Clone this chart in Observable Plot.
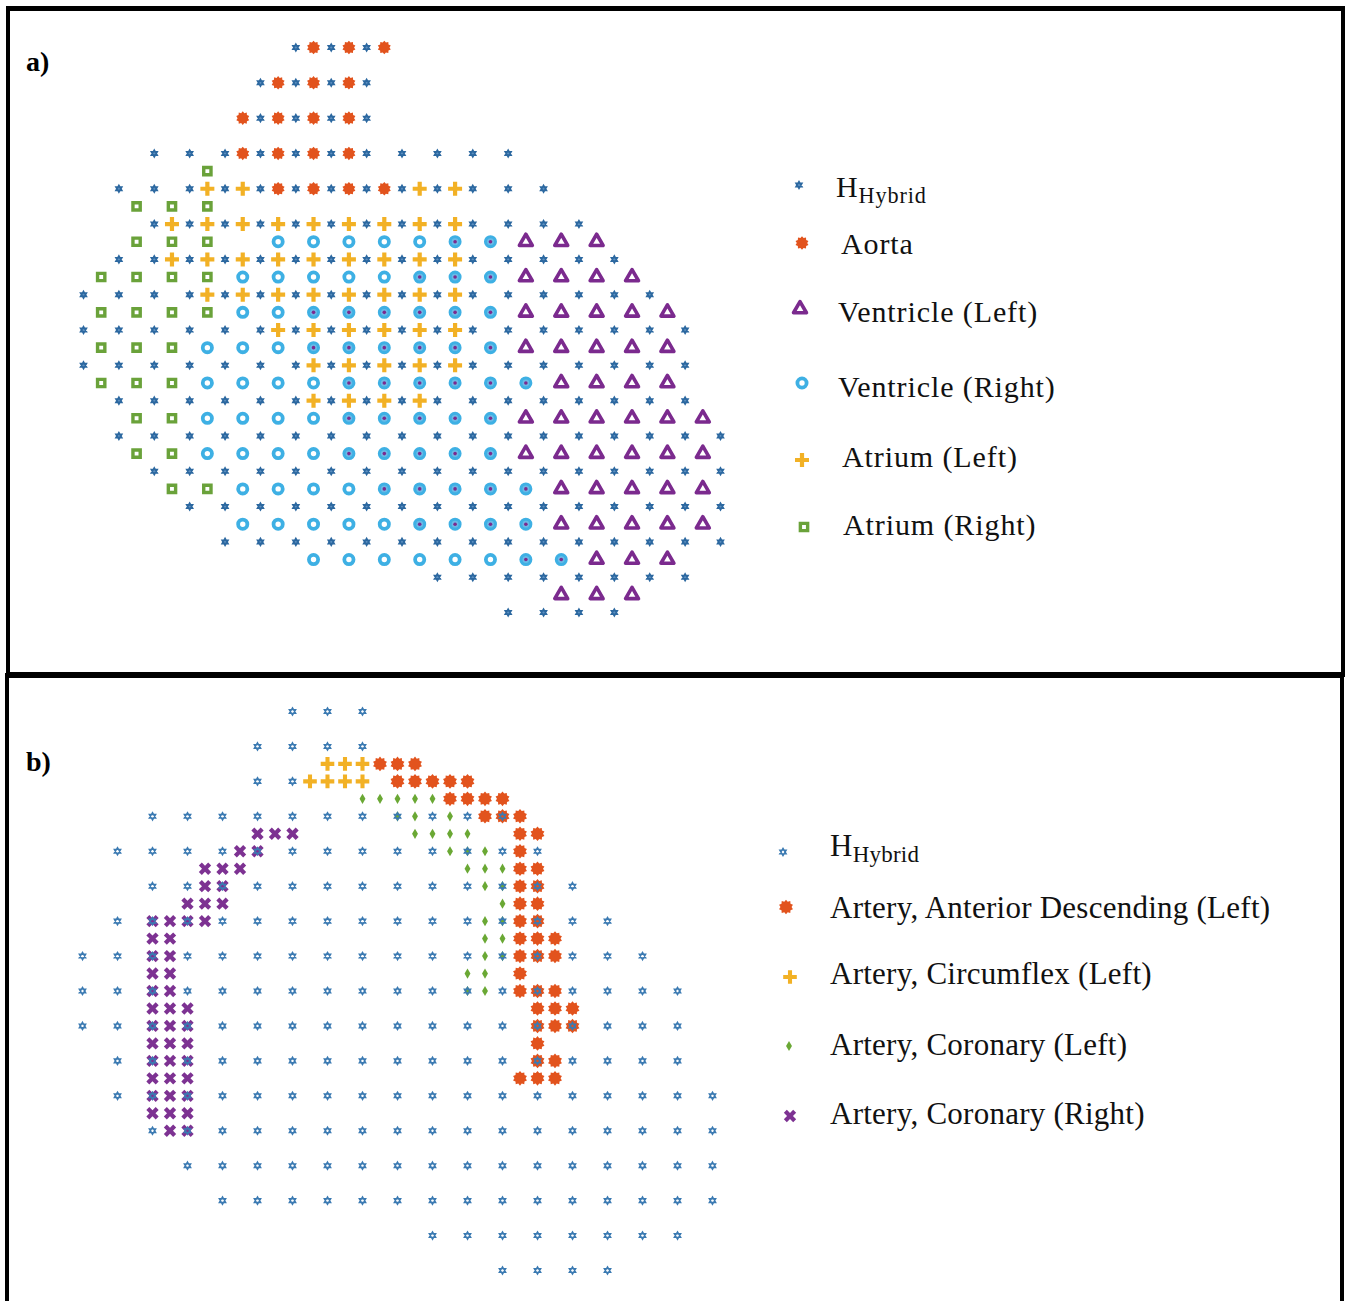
<!DOCTYPE html>
<html><head><meta charset="utf-8">
<script src="https://cdn.jsdelivr.net/npm/d3@7"></script>
<script src="https://cdn.jsdelivr.net/npm/@observablehq/plot@0.6"></script>
<style>
html,body{margin:0;padding:0;background:#fff;}
body{width:1352px;height:1301px;position:relative;overflow:hidden;font-family:"Liberation Serif",serif;}
.box{position:absolute;border:4px solid #000;box-sizing:border-box;background:transparent;}
.plotwrap{position:absolute;left:0;}
.plotwrap svg{background:transparent !important;max-width:none !important;}
#legend{position:absolute;left:0;top:0;pointer-events:none;}
</style></head><body>
<div class="box" style="left:6px;top:6px;width:1339px;height:671px;border-width:5px 4px 5px 4px"></div>
<div class="box" style="left:5px;top:673px;width:1339px;height:660px;border-width:5px 4px 4px 4px"></div>
<div class="plotwrap" id="pa" style="top:0"></div>
<div class="plotwrap" id="pb" style="top:676px"></div>
<svg id="legend" width="1352" height="1301"></svg>
<script>
// ---------------- DATA: panel a) (column index k, row index m on a half-step grid) ----------------
const aHybrid = [
  [0,"12 14 16"],[2,"10 12 14 16"],[4,"10 12 14 16"],
  [6,"4 6 8 10 12 14 16 18 20 22 24"],
  [8,"2 4 6 8 10 12 14 16 18 20 22 24 26"],
  [10,"4 6 8 10 12 14 16 18 20 22 24 26 28"],
  [12,"2 4 6 8 10 12 14 16 18 20 22 24 26 28 30"],
  [14,"0 2 4 6 8 10 12 14 16 18 20 22 24 26 28 30 32"],
  [16,"0 2 4 6 8 10 12 14 16 18 20 22 24 26 28 30 32 34"],
  [18,"0 2 4 6 8 10 12 14 16 18 20 22 24 26 28 30 32 34"],
  [20,"2 4 6 8 10 12 14 16 18 20 22 24 26 28 30 32 34"],
  [22,"2 4 6 8 10 12 14 16 18 20 22 24 26 28 30 32 34 36"],
  [24,"4 6 8 10 12 14 16 18 20 22 24 26 28 30 32 34 36"],
  [26,"6 8 10 12 14 16 18 20 22 24 26 28 30 32 34 36"],
  [28,"8 10 12 14 16 18 20 22 24 26 28 30 32 34 36"],
  [30,"20 22 24 26 28 30 32 34"],
  [32,"24 26 28 30"]
];
const aAorta = [[0,"13 15 17"],[2,"11 13 15"],[4,"9 11 13 15"],[6,"9 11 13 15"],[8,"11 13 15 17"]];
const aVentricleLeft = [
  [11,"25 27 29"],[13,"25 27 29 31"],[15,"25 27 29 31 33"],[17,"25 27 29 31 33"],
  [19,"27 29 31 33"],[21,"25 27 29 31 33 35"],[23,"25 27 29 31 33 35"],
  [25,"27 29 31 33 35"],[27,"27 29 31 33 35"],[29,"29 31 33"],[31,"27 29 31"]
];
const aVentricleRight = [
  [11,"11 13 15 17 19 21 23"],[13,"9 11 13 15 17 19 21 23"],[15,"9 11 13 15 17 19 21 23"],
  [17,"7 9 11 13 15 17 19 21 23"],[19,"7 9 11 13 15 17 19 21 23 25"],
  [21,"7 9 11 13 15 17 19 21 23"],[23,"7 9 11 13 15 17 19 21 23"],
  [25,"9 11 13 15 17 19 21 23 25"],[27,"9 11 13 15 17 19 21 23 25"],
  [29,"13 15 17 19 21 23 25 27"]
];
const aVentricleOverlap = [
  [11,"21 23"],[13,"19 21 23"],[15,"13 15 17 19 21 23"],[17,"13 15 17 19 21 23"],
  [19,"15 17 19 21 23 25"],[21,"15 17 19 21 23"],[23,"15 17 19 21 23"],
  [25,"17 19 21 23 25"],[27,"19 21 23 25"],[29,"25 27"]
];
const aAtriumLeft = [
  [8,"7 9 19 21"],[10,"5 7 9 11 13 15 17 19 21"],[12,"5 7 9 11 13 15 17 19 21"],
  [14,"7 9 11 13 15 17 19 21"],[16,"11 13 15 17 19 21"],[18,"13 15 17 19 21"],[20,"13 15 17 19"]
];
const aAtriumRight = [
  [7,"7"],[9,"3 5 7"],[11,"3 5 7"],[13,"1 3 5 7"],[15,"1 3 5 7"],[17,"1 3 5"],
  [19,"1 3 5"],[21,"3 5"],[23,"3 5"],[25,"5 7"]
];
const aLegend = ["HHybrid","Aorta","Ventricle (Left)","Ventricle (Right)","Atrium (Left)","Atrium (Right)"];

// ---------------- DATA: panel b) ----------------
const bHybrid = [
  [0,"12 14 16"],[2,"10 12 14 16"],[4,"10 12"],
  [6,"4 6 8 10 12 14 16 18 20 22 24"],
  [8,"2 4 6 8 10 12 14 16 18 20 22 24 26"],
  [10,"4 6 8 10 12 14 16 18 20 22 24 26 28"],
  [12,"2 4 6 8 10 12 14 16 18 20 22 24 26 28 30"],
  [14,"0 2 4 6 8 10 12 14 16 18 20 22 24 26 28 30 32"],
  [16,"0 2 4 6 8 10 12 14 16 18 20 22 24 26 28 30 32 34"],
  [18,"0 2 4 6 8 10 12 14 16 18 20 22 24 26 28 30 32 34"],
  [20,"2 4 6 8 10 12 14 16 18 20 22 24 26 28 30 32 34"],
  [22,"2 4 6 8 10 12 14 16 18 20 22 24 26 28 30 32 34 36"],
  [24,"4 6 8 10 12 14 16 18 20 22 24 26 28 30 32 34 36"],
  [26,"6 8 10 12 14 16 18 20 22 24 26 28 30 32 34 36"],
  [28,"8 10 12 14 16 18 20 22 24 26 28 30 32 34 36"],
  [30,"20 22 24 26 28 30 32 34"],
  [32,"24 26 28 30"]
];
const bAnteriorDescending = [
  [3,"17 18 19"],[4,"18 19 20 21 22"],[5,"21 22 23 24"],[6,"23 24 25"],[7,"25 26"],
  [8,"25"],[9,"25 26"],[10,"25 26"],[11,"25 26"],[12,"25 26"],[13,"25 26 27"],
  [14,"25 26 27"],[15,"25"],[16,"25 26 27"],[17,"26 27 28"],[18,"26 27 28"],
  [19,"26"],[20,"26 27"],[21,"25 26 27"]
];
const bCircumflex = [[3,"14 15 16"],[4,"13 14 15 16"]];
const bCoronaryLeft = [
  [5,"16 17 18 19 20"],[6,"18 19 21"],[7,"19 20 21 22"],[8,"21 22 23"],[9,"22 23 24"],
  [10,"23 24"],[11,"24"],[12,"23 24"],[13,"23 24"],[14,"23 24"],[15,"22 23"],[16,"22 23"]
];
const bCoronaryRight = [
  [7,"10 11 12"],[8,"9 10"],[9,"7 8 9"],[10,"7 8"],[11,"6 7 8"],[12,"4 5 6 7"],
  [13,"4 5"],[14,"4 5"],[15,"4 5"],[16,"4 5"],[17,"4 5 6"],[18,"4 5 6"],[19,"4 5 6"],
  [20,"4 5 6"],[21,"4 5 6"],[22,"4 5 6"],[23,"4 5 6"],[24,"5 6"]
];
const bLegend = ["HHybrid","Artery, Anterior Descending (Left)","Artery, Circumflex (Left)","Artery, Coronary (Left)","Artery, Coronary (Right)"];

// ---------------- colours ----------------
const cHa = "#2c68a0", cHb = "#3b7ab2", cAorta = "#e2531d", cVL = "#7b2a8e",
      cVR = "#3eb0e4", cAL = "#f2b125", cAR = "#6aa23a", cCL = "#6aa834", cCR = "#7d3292";

// ---------------- custom symbols ----------------
const hexagram = {draw(ctx, size){ const R = Math.sqrt(size/Math.PI);
  for (let t=0;t<2;t++){ for (let i=0;i<3;i++){ const a=(t?Math.PI/2:-Math.PI/2)+i*2*Math.PI/3;
    const x=R*Math.cos(a), y=R*Math.sin(a); if(i) ctx.lineTo(x,y); else ctx.moveTo(x,y);} ctx.closePath(); } }};
const burst = {draw(ctx, size){ const R = Math.sqrt(size/Math.PI), n = 10;
  for (let i=0;i<2*n;i++){ const a=i*Math.PI/n - Math.PI/2, r=i%2?R*0.76:R;
    const x=r*Math.cos(a), y=r*Math.sin(a); if(i) ctx.lineTo(x,y); else ctx.moveTo(x,y);} ctx.closePath(); }};
function crossPts(R, w){ return [[-w,-R],[w,-R],[w,-w],[R,-w],[R,w],[w,w],[w,R],[-w,R],[-w,w],[-R,w],[-R,-w],[-w,-w]]; }
const plusSym = {draw(ctx, size){ const R=Math.sqrt(size/Math.PI), w=R*0.3;
  crossPts(R,w).forEach(([x,y],i)=> i?ctx.lineTo(x,y):ctx.moveTo(x,y)); ctx.closePath(); }};
const timesSym = {draw(ctx, size){ const R=Math.sqrt(size/Math.PI), w=R*0.32, s=Math.SQRT1_2;
  crossPts(R,w).forEach(([x,y],i)=>{ const X=(x-y)*s, Y=(x+y)*s; i?ctx.lineTo(X,Y):ctx.moveTo(X,Y); }); ctx.closePath(); }};

function pts(rows){ const out=[]; for (const [m, ks] of rows) for (const k of ks.trim().split(/\s+/)) out.push({k:+k, m}); return out; }

// ---------------- panel a ----------------
const plotA = Plot.plot({
  width: 760, height: 676, style:{background:"transparent"},
  x: {domain:[0,36], range:[83,720], axis:null},
  y: {domain:[0,32], range:[47,612], axis:null},
  marks: [
    Plot.dot(pts(aHybrid), {x:"k", y:"m", symbol:hexagram, r:3.4, stroke:cHa, strokeWidth:1.6, fill:"#5b8fc0"}),
    Plot.dot(pts(aAorta), {x:"k", y:"m", symbol:burst, r:6.8, fill:cAorta, stroke:"none"}),
    Plot.dot(pts(aAtriumLeft), {x:"k", y:"m", symbol:plusSym, r:7, fill:cAL, stroke:"none"}),
    Plot.dot(pts(aAtriumRight), {x:"k", y:"m", symbol:"square", r:4.1, stroke:cAR, strokeWidth:3.4, fill:"white"}),
    Plot.dot(pts(aVentricleRight), {x:"k", y:"m", symbol:"circle", r:4.6, stroke:cVR, strokeWidth:3.8, fill:"white"}),
    Plot.dot(pts(aVentricleOverlap), {x:"k", y:"m", r:3.4, fill:"#6bb9e6", stroke:"none"}),
    Plot.dot(pts(aVentricleOverlap), {x:"k", y:"m", r:1.8, fill:cVL, stroke:"none"}),
    Plot.dot(pts(aVentricleLeft), {x:"k", y:"m", symbol:"triangle", r:4.8, stroke:cVL, strokeWidth:3.6, strokeLinejoin:"round", fill:"white"})
  ]
});
document.getElementById("pa").appendChild(plotA);

// ---------------- panel b ----------------
const plotB = Plot.plot({
  width: 760, height: 620, style:{background:"transparent"},
  x: {domain:[0,36], range:[82,712], axis:null},
  y: {domain:[0,32], range:[35,594], axis:null},
  marks: [
    Plot.dot(pts(bCircumflex), {x:"k", y:"m", symbol:plusSym, r:6.8, fill:cAL, stroke:"none"}),
    Plot.dot(pts(bAnteriorDescending), {x:"k", y:"m", symbol:burst, r:7.3, fill:cAorta, stroke:"none"}),
    Plot.dot(pts(bCoronaryLeft), {x:"k", y:"m", symbol:"diamond", r:3.1, fill:cCL, stroke:"none"}),
    Plot.dot(pts(bCoronaryRight), {x:"k", y:"m", symbol:timesSym, r:6.6, fill:cCR, stroke:"none"}),
    Plot.dot(pts(bHybrid), {x:"k", y:"m", symbol:hexagram, r:3.7, stroke:cHb, strokeWidth:1.4, fill:"none"})
  ]
});
document.getElementById("pb").appendChild(plotB);

// ---------------- legends and panel labels ----------------
const L = d3.select("#legend");
function sym(x, y, type, r, attrs){ const p = L.append("path").attr("d", d3.symbol(type, Math.PI*r*r)()).attr("transform", `translate(${x},${y})`);
  for (const [k,v] of Object.entries(attrs)) p.attr(k,v); }
function label(x, y, txt, size){
  const t = L.append("text").attr("x",x).attr("y",y).attr("font-family","Liberation Serif, serif").attr("font-size",size).attr("fill","#111");
  if (txt.startsWith("HHybrid")) { t.append("tspan").text("H"); t.append("tspan").attr("font-size",size*0.74).attr("dy",6).text("Hybrid"); }
  else t.text(txt);
  return t;
}
L.append("text").attr("x",26).attr("y",71).attr("font-family","Liberation Serif, serif").attr("font-weight","bold").attr("font-size",28).text("a)");
L.append("text").attr("x",26).attr("y",771).attr("font-family","Liberation Serif, serif").attr("font-weight","bold").attr("font-size",28).text("b)");

// panel a legend
const aSym = [
  [hexagram, 3.4, {stroke:cHa,"stroke-width":1.6,fill:"#5b8fc0"}],
  [burst, 6.8, {fill:cAorta}],
  [d3.symbolTriangle, 4.8, {stroke:cVL,"stroke-width":3.6,"stroke-linejoin":"round",fill:"white"}],
  [d3.symbolCircle, 4.6, {stroke:cVR,"stroke-width":3.8,fill:"white"}],
  [plusSym, 7, {fill:cAL}],
  [d3.symbolSquare, 4.1, {stroke:cAR,"stroke-width":3.4,fill:"white"}]
];
const aSymPos = [[799,185],[802,243],[800,309],[802,383],[802,460],[804,527]];
const aTxtPos = [[836,197],[841,254],[838,322],[838,397],[842,467],[843,535]];
aLegend.forEach((t,i)=>{ sym(...aSymPos[i], ...aSym[i]); label(...aTxtPos[i], t, 30).attr("letter-spacing", 0.9); });

// panel b legend
const bSym = [
  [hexagram, 3.7, {stroke:cHb,"stroke-width":1.4,fill:"none"}],
  [burst, 7.3, {fill:cAorta}],
  [plusSym, 6.8, {fill:cAL}],
  [d3.symbolDiamond, 3.1, {fill:cCL}],
  [timesSym, 6.6, {fill:cCR}]
];
const bSymPos = [[783,852],[786,907],[790,977],[789,1046],[790,1116]];
const bTxtPos = [[830,856],[830,918],[830,984],[830,1055],[830,1124]];
bLegend.forEach((t,i)=>{ sym(...bSymPos[i], ...bSym[i]); label(...bTxtPos[i], t, 31).attr("letter-spacing", 0.25); });
</script>
</body></html>
